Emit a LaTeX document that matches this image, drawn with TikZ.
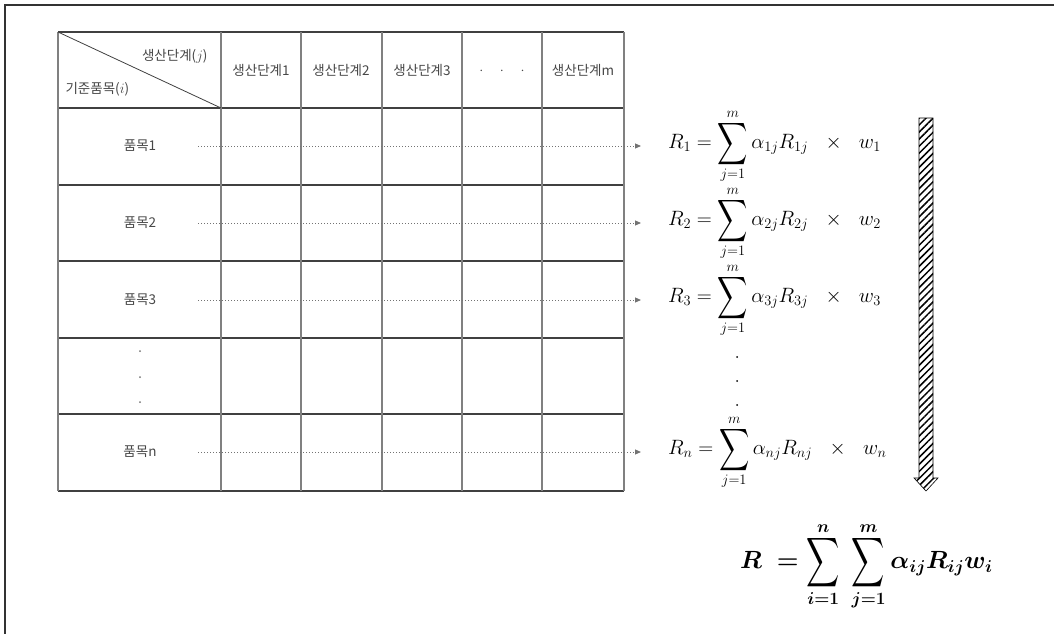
\documentclass[tikz,border=0pt]{standalone}
\usepackage{amsmath,amssymb,bm}
\usepackage{fontspec}
\newfontfamily\kr{Noto Sans CJK KR}
\usetikzlibrary{positioning,arrows.meta,patterns.meta}
\newcommand{\tallsum}[1][1.4]{\mathop{\vcenter{\hbox{\raisebox{0pt}[\dimexpr\height-1.5pt\relax][\dimexpr\depth-2pt\relax]{\scalebox{1}[#1]{$\displaystyle\sum$}}}}}\limits}

\begin{document}
\begin{tikzpicture}[
  x=1pt,y=-1pt,
  hline/.style={draw=black!75,line width=1.1pt},
  vline/.style={draw=black!50,line width=1.1pt},
  cell/.style={font=\kr\fontsize{13.5}{16}\selectfont,text=black!72},
  flow/.style={draw=black!55,dotted,line width=1pt,-{Triangle[length=6pt,width=5pt]}},
  eq/.style={anchor=west,inner sep=0pt,font=\fontsize{21}{24}\selectfont},
  sumeq/.style={anchor=west,inner sep=0pt,font=\fontsize{23}{26}\selectfont\boldmath}
]
\useasboundingbox (0,0) rectangle (1054,634);
% 바깥 테두리
\draw[black!80,line width=1.5pt] (5,634) -- (5,5) -- (1054,5);

% 표
\foreach \y in {32,108,185,261,338,414,491}
  \draw[hline] (58,\y) -- (624,\y);
\foreach \x in {58,221,301,382,462,542,624}
  \draw[vline] (\x,32) -- (\x,491);
\draw[black!75,line width=0.8pt] (58,32) -- (221,108);

% 머리글
\node[cell,anchor=east] (stage) at (211,56) {생산단계($j$)};
\node[cell,anchor=west] (item) at (62,89) {기준품목($i$)};
\node[cell] (h1) at (261,70) {생산단계1};
\node[cell] (h2) at (341,70) {생산단계2};
\node[cell] (h3) at (422,70) {생산단계3};
\node[cell] (hd) at (502,71) {$\cdot\quad\cdot\quad\cdot$};
\node[cell] (hm) at (583,70) {생산단계m};

% 품목
\node[cell] (r1) at (140,146) {품목1};
\node[cell] (r2) at (140,223) {품목2};
\node[cell] (r3) at (140,300) {품목3};
\node[cell] (rn) at (140,452) {품목n};
\foreach \y in {351,377,402}
  \fill[black!55] (140,\y) circle (1);

% 점선 화살표
\foreach \r/\y in {1/146,2/223,3/300,n/452}{
  \coordinate (s\r) at (198,\y);
  \coordinate (e\r) at (641,\y);
  \draw[flow] (s\r) -- (e\r);
}

% 품목별 식
\node[eq] (f1) at (668,146) {$R_1 = \tallsum_{j=1}^{m} \alpha_{1j}R_{1j}\ \ \times\ \ w_1$};
\node[eq] (f2) at (668,223) {$R_2 = \tallsum_{j=1}^{m} \alpha_{2j}R_{2j}\ \ \times\ \ w_2$};
\node[eq] (f3) at (668,300) {$R_3 = \tallsum_{j=1}^{m} \alpha_{3j}R_{3j}\ \ \times\ \ w_3$};
\node[eq] (fn) at (668,452) {$R_n = \tallsum_{j=1}^{m} \alpha_{nj}R_{nj}\ \ \times\ \ w_n$};
\foreach \y in {357,381,405}
  \fill (737,\y) circle (1);

% 빗금 화살표
\draw[line width=0.6pt,pattern={Lines[angle=45,distance=5pt,line width=1.5pt]}] (919,118) -- (933,118) -- (933,478) -- (938,478) -- (926,491) -- (914,478) -- (919,478) -- cycle;

% 합계
\node[sumeq] (total) at (740,566) {$R\ = \tallsum[1.5]_{i=1}^{n}\ \tallsum[1.5]_{j=1}^{m}\alpha_{ij}R_{ij}w_i$};
\end{tikzpicture}
\end{document}
